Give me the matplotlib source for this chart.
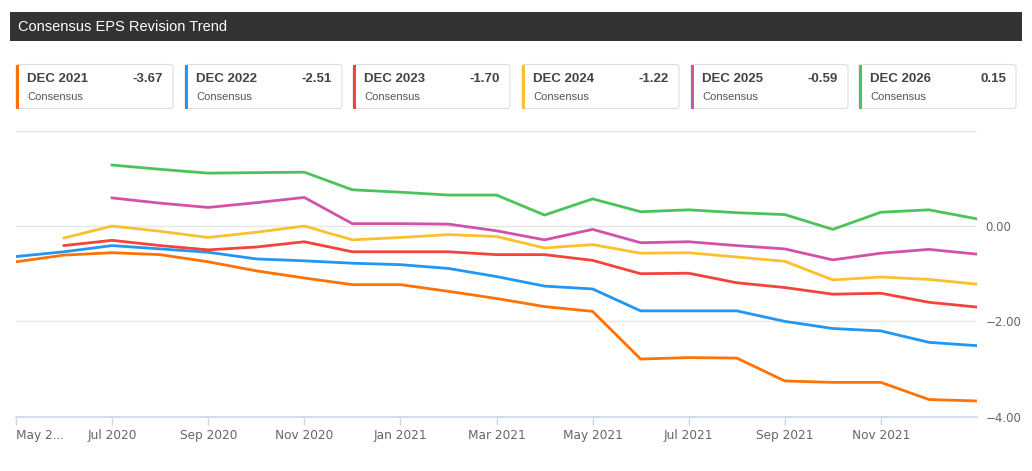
import matplotlib
matplotlib.use("Agg")
import matplotlib.pyplot as plt
from matplotlib.patches import FancyBboxPatch, Rectangle

# monthly revision points, May 2020 .. Jan 2022
months = ["May 2020", "Jun 2020", "Jul 2020", "Aug 2020", "Sep 2020", "Oct 2020",
          "Nov 2020", "Dec 2020", "Jan 2021", "Feb 2021", "Mar 2021", "Apr 2021",
          "May 2021", "Jun 2021", "Jul 2021", "Aug 2021", "Sep 2021", "Oct 2021",
          "Nov 2021", "Dec 2021", "Jan 2022"]
tick_labels = ["May 2...", "Jul 2020", "Sep 2020", "Nov 2020", "Jan 2021", "Mar 2021",
               "May 2021", "Jul 2021", "Sep 2021", "Nov 2021"]

N = None
dec2021 = [-0.75, -0.61, -0.56, -0.60, -0.75, -0.94, -1.09, -1.23, -1.23, -1.37, -1.52,
           -1.69, -1.79, -2.79, -2.76, -2.77, -3.25, -3.28, -3.28, -3.64, -3.67]
dec2022 = [-0.64, -0.54, -0.41, -0.48, -0.55, -0.69, -0.73, -0.78, -0.81, -0.89, -1.06,
           -1.26, -1.32, -1.78, -1.78, -1.78, -2.00, -2.15, -2.20, -2.44, -2.51]
dec2023 = [N, -0.41, -0.30, -0.41, -0.50, -0.44, -0.33, -0.54, -0.54, -0.54, -0.60,
           -0.60, -0.72, -1.00, -0.99, -1.19, -1.29, -1.43, -1.41, -1.60, -1.70]
dec2024 = [N, -0.25, 0.00, -0.11, -0.24, -0.13, 0.00, -0.29, -0.24, -0.18, -0.22,
           -0.46, -0.39, -0.57, -0.56, -0.65, -0.74, -1.13, -1.07, -1.12, -1.22]
dec2025 = [N, N, 0.59, 0.48, 0.39, 0.49, 0.60, 0.05, 0.05, 0.04, -0.10,
           -0.29, -0.07, -0.35, -0.33, -0.41, -0.48, -0.71, -0.57, -0.49, -0.59]
dec2026 = [N, N, 1.28, 1.19, 1.11, 1.12, 1.13, 0.76, 0.71, 0.65, 0.65,
           0.23, 0.57, 0.30, 0.34, 0.28, 0.24, -0.07, 0.29, 0.34, 0.15]

names = ["DEC 2021", "DEC 2022", "DEC 2023", "DEC 2024", "DEC 2025", "DEC 2026"]
latest = ["-3.67", "-2.51", "-1.70", "-1.22", "-0.59", "0.15"]
series = [dec2021, dec2022, dec2023, dec2024, dec2025, dec2026]
colors = ["#ff7205", "#2196f3", "#f4433a", "#fbc02d", "#d152a8", "#4cc35a"]

W, H = 1032, 471
fig = plt.figure(figsize=(W / 100, H / 100), dpi=100)

# overlay in pixel coordinates for header + cards
ov = fig.add_axes([0, 0, 1, 1])
ov.set_xlim(0, W)
ov.set_ylim(H, 0)
ov.axis("off")

ov.add_patch(Rectangle((10, 12), 1012, 29, color="#333333", lw=0))
ov.text(18, 27, "Consensus EPS Revision Trend", color="white", fontsize=10.5,
        family="Liberation Sans", va="center")

card_x = [16, 185, 353, 522, 691, 859]
for cx, name, val, col in zip(card_x, names, latest, colors):
    ov.add_patch(FancyBboxPatch((cx, 64.5), 157, 44, boxstyle="round,pad=0,rounding_size=3",
                                fc="white", ec="#dddddd", lw=0.8))
    ov.add_patch(Rectangle((cx, 64.5), 3, 44, color=col, lw=0))
    ov.text(cx + 11, 79, name, fontsize=9.5, fontweight="bold", color="#444444",
            family="Liberation Sans", va="center")
    ov.text(cx + 147, 79, val, fontsize=9.5, fontweight="bold", color="#444444",
            family="Liberation Sans", va="center", ha="right")
    ov.text(cx + 11, 97.5, "Consensus", fontsize=8, color="#555555",
            family="Liberation Sans", va="center")

# main chart
x0, x1, ytop, ybot = 16, 977, 130.7, 416.7
ax = fig.add_axes([x0 / W, 1 - ybot / H, (x1 - x0) / W, (ybot - ytop) / H])
xs = list(range(len(months)))
for s, col in zip(series, colors):
    pts = [(x, v) for x, v in zip(xs, s) if v is not None]
    ax.plot([p[0] for p in pts], [p[1] for p in pts], color=col, lw=2, solid_joinstyle="miter")

ax.set_xlim(0, len(months) - 1)
ax.set_ylim(-4, 2)
ax.set_yticks([2, 0, -2, -4])
ax.set_yticklabels(["", "0.00", "\u22122.00", "\u22124.00"])
ax.yaxis.tick_right()
ax.tick_params(axis="y", length=0, pad=6, labelsize=8.5, labelcolor="#666666")
ax.grid(axis="y", color="#e6e6e6", lw=1)
ax.set_axisbelow(True)

ax.set_xticks(xs[:-1:2])
ax.set_xticklabels(tick_labels)
ax.tick_params(axis="x", length=6, width=1, color="#ccd6eb", labelsize=8.7,
               labelcolor="#666666", pad=3)
ax.get_xticklabels()[0].set_horizontalalignment("left")

for side in ["top", "left", "right"]:
    ax.spines[side].set_visible(False)
ax.spines["bottom"].set_color("#ccd6eb")
ax.spines["bottom"].set_linewidth(1.2)

fig.savefig("out.png", dpi=100)
